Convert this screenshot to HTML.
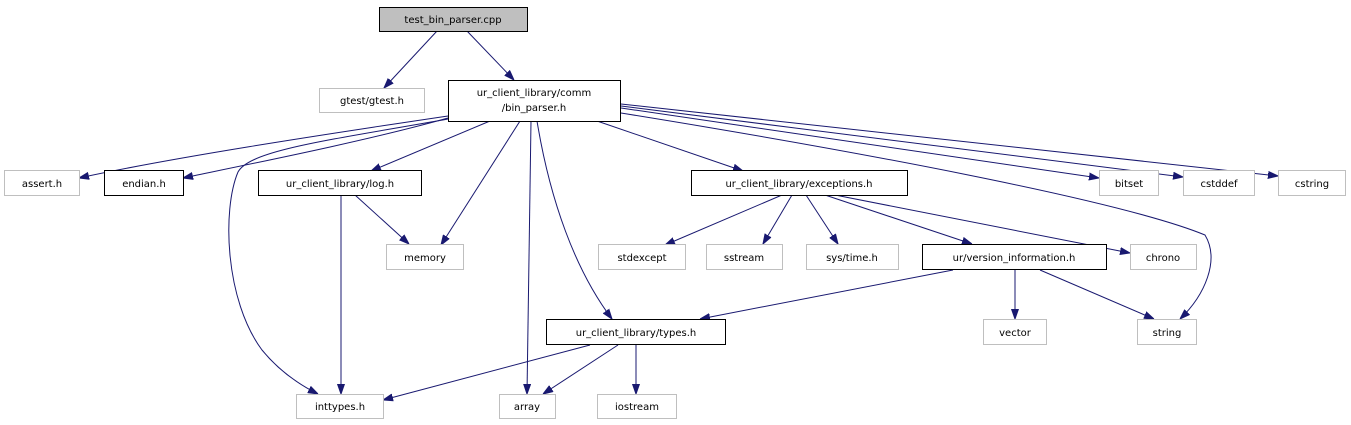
<!DOCTYPE html>
<html><head><meta charset="utf-8"><style>
html,body{margin:0;padding:0;background:#fff;}
svg{display:block;}
text{font-family:"DejaVu Sans","Liberation Sans",sans-serif;font-size:10px;text-anchor:middle;fill:#000;}
.g{fill:#fff;stroke:#bfbfbf;stroke-width:1;}
.b{fill:#fff;stroke:#000;stroke-width:1;}
.e{fill:none;stroke:#191970;stroke-width:1;}
</style></head><body>
<svg width="1351" height="425" viewBox="0 0 1351 425" xmlns="http://www.w3.org/2000/svg">
<defs><marker id="a" markerWidth="10" markerHeight="8" refX="10" refY="4" orient="auto" markerUnits="userSpaceOnUse"><path d="M0,0.5 L10,4 L0,7.5 Z" fill="#191970" stroke="#191970"/></marker></defs>
<g class="e" marker-end="url(#a)">
<path d="M437,31 L384,88"/>
<path d="M467,31 L514,80"/>
<path d="M448,116 C320,135 170,158 79,178"/>
<path d="M448,118 C370,140 260,162 183,178"/>
<path d="M448,119 C330,140 250,150 238,172 C222,210 225,300 262,350 C280,372 300,385 318,394"/>
<path d="M490,121 L371,171"/>
<path d="M520,121 L441,245"/>
<path d="M531,121 L527,394"/>
<path d="M537,121 C550,200 575,270 612,319"/>
<path d="M597,121 L743,171"/>
<path d="M621,113 C850,150 1120,200 1205,235 C1220,260 1205,295 1180,319"/>
<path d="M621,108 L1099,178"/>
<path d="M621,106 L1183,177"/>
<path d="M621,104 L1278,176"/>
<path d="M341,195 L341,394"/>
<path d="M355,195 L409,244"/>
<path d="M782,195 L665,245"/>
<path d="M792,195 L763,244"/>
<path d="M806,195 L838,244"/>
<path d="M825,195 L972,244"/>
<path d="M835,195 L1130,253"/>
<path d="M953,270 L700,319"/>
<path d="M1015,270 L1015,319"/>
<path d="M1040,270 L1154,319"/>
<path d="M590,345 L383,400"/>
<path d="M618,345 L543,394"/>
<path d="M636,345 L636,394"/>
</g>
<rect x="379.5" y="7.5" width="148" height="24" fill="#bfbfbf" stroke="#000"/><text x="453" y="23">test_bin_parser.cpp</text>
<rect class="g" x="319.5" y="88.5" width="105" height="24"/><text x="372" y="104">gtest/gtest.h</text>
<rect class="b" x="448.5" y="80.5" width="172" height="41"/><text x="534" y="96">ur_client_library/comm</text><text x="534" y="111">/bin_parser.h</text>
<rect class="g" x="4.5" y="170.5" width="75" height="25"/><text x="42" y="187">assert.h</text>
<rect class="b" x="104.5" y="170.5" width="79" height="25"/><text x="144" y="187">endian.h</text>
<rect class="b" x="258.5" y="170.5" width="163" height="25"/><text x="340" y="187">ur_client_library/log.h</text>
<rect class="b" x="691.5" y="170.5" width="216" height="25"/><text x="799" y="187">ur_client_library/exceptions.h</text>
<rect class="g" x="1099.5" y="170.5" width="59" height="25"/><text x="1129" y="187">bitset</text>
<rect class="g" x="1183.5" y="170.5" width="71" height="25"/><text x="1219" y="187">cstddef</text>
<rect class="g" x="1278.5" y="170.5" width="67" height="25"/><text x="1312" y="187">cstring</text>
<rect class="g" x="386.5" y="244.5" width="77" height="25"/><text x="425" y="261">memory</text>
<rect class="g" x="598.5" y="244.5" width="87" height="25"/><text x="642" y="261">stdexcept</text>
<rect class="g" x="706.5" y="244.5" width="76" height="25"/><text x="744" y="261">sstream</text>
<rect class="g" x="806.5" y="244.5" width="92" height="25"/><text x="852" y="261">sys/time.h</text>
<rect class="b" x="922.5" y="244.5" width="184" height="25"/><text x="1014" y="261">ur/version_information.h</text>
<rect class="g" x="1130.5" y="244.5" width="66" height="25"/><text x="1163" y="261">chrono</text>
<rect class="b" x="546.5" y="319.5" width="179" height="25"/><text x="636" y="336">ur_client_library/types.h</text>
<rect class="g" x="983.5" y="319.5" width="63" height="25"/><text x="1015" y="336">vector</text>
<rect class="g" x="1137.5" y="319.5" width="59" height="25"/><text x="1167" y="336">string</text>
<rect class="g" x="296.5" y="394.5" width="87" height="24"/><text x="340" y="410">inttypes.h</text>
<rect class="g" x="499.5" y="394.5" width="56" height="24"/><text x="527" y="410">array</text>
<rect class="g" x="597.5" y="394.5" width="79" height="24"/><text x="637" y="410">iostream</text>
</svg>
</body></html>
